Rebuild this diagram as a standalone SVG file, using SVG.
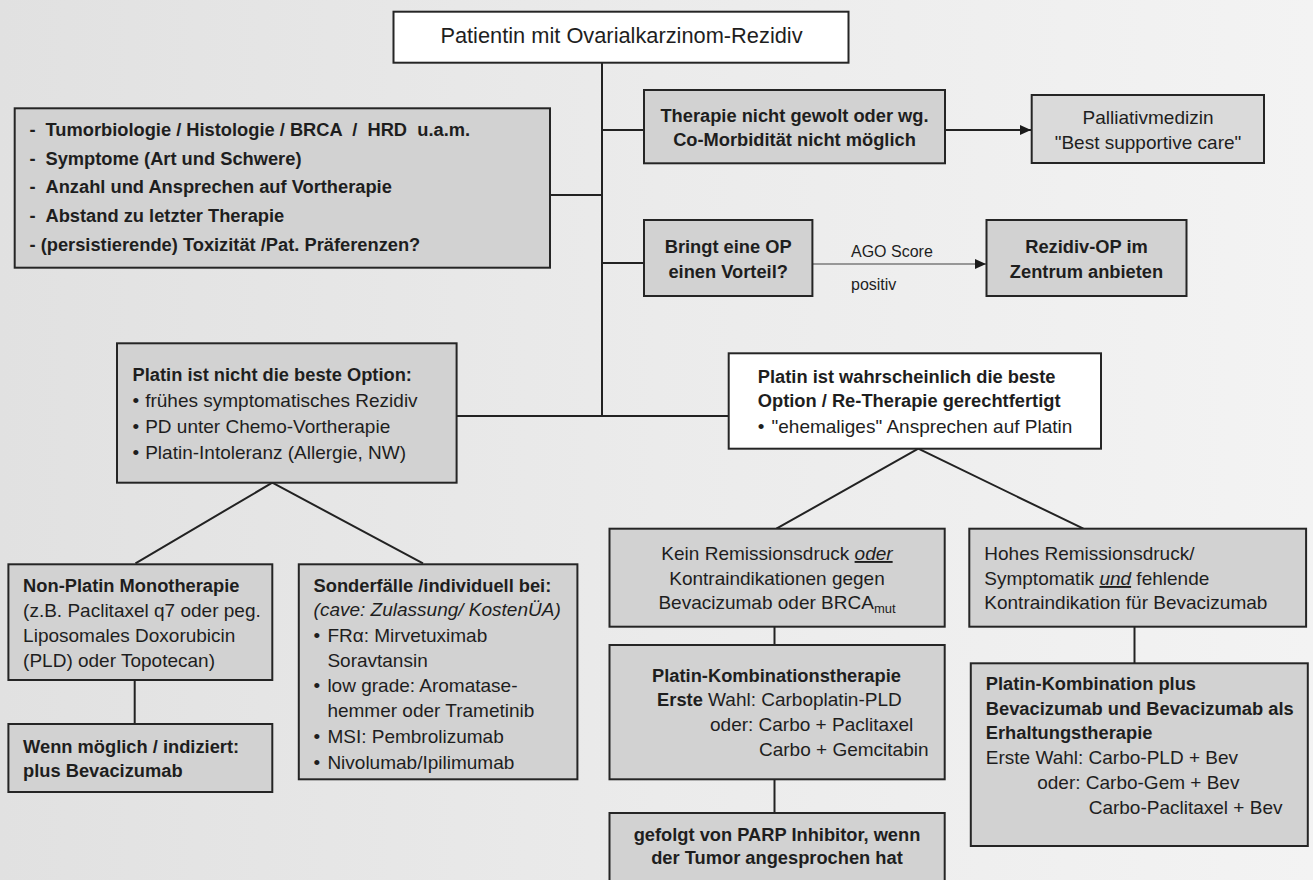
<svg xmlns="http://www.w3.org/2000/svg" width="1313" height="880" viewBox="0 0 1313 880">
  <defs>
    <linearGradient id="bg" x1="0" y1="0" x2="1" y2="0">
      <stop offset="0" stop-color="#e1e1e1"/>
      <stop offset="0.5" stop-color="#ebebeb"/>
      <stop offset="1" stop-color="#f3f3f3"/>
    </linearGradient>
    <marker id="arrow" markerUnits="userSpaceOnUse" markerWidth="12" markerHeight="11" refX="11" refY="5" orient="auto">
      <path d="M0,0 L11,5 L0,10 z" fill="#1a1a1a"/>
    </marker>
    <marker id="arrowGrey" markerUnits="userSpaceOnUse" markerWidth="12" markerHeight="11" refX="11" refY="5" orient="auto">
      <path d="M0,0 L11,5 L0,10 z" fill="#1a1a1a"/>
    </marker>
  </defs>
  <style>
    .box { stroke: #252525; stroke-width: 2; }
    .g { fill: #d2d2d2; }
    .gl { fill: #dadada; }
    .w { fill: #ffffff; }
    text { font-family: "Liberation Sans", Arial, sans-serif; fill: #1e1e1e; }
    .b { font-size: 18.3px; font-weight: bold; }
    .r { font-size: 19px; }
    .c { text-anchor: middle; }
    .pre { white-space: pre; }
    .em { font-style: italic; text-decoration: underline; }
    .line { stroke: #222; stroke-width: 2; fill: none; }
  </style>

  <rect x="0" y="0" width="1313" height="880" fill="url(#bg)"/>

  <!-- connectors -->
  <g id="connectors">
    <line class="line" x1="602" y1="62" x2="602" y2="416"/>
    <line class="line" x1="550" y1="195" x2="602" y2="195"/>
    <line class="line" x1="602" y1="130" x2="644" y2="130"/>
    <line class="line" x1="602" y1="263" x2="644" y2="263"/>
    <line class="line" x1="456.6" y1="416" x2="728.7" y2="416"/>
    <line class="line" x1="945" y1="130" x2="1031" y2="130" marker-end="url(#arrow)"/>
    <line x1="812.4" y1="264" x2="986" y2="264" stroke="#7a7a7a" stroke-width="1.5" marker-end="url(#arrowGrey)"/>
    <polyline class="line" points="135.5,563.3 272.3,482.7 423,563.3"/>
    <line class="line" x1="134.7" y1="680" x2="134.7" y2="724"/>
    <polyline class="line" points="776.4,528.7 918.3,448.7 1083.4,528.7"/>
    <line class="line" x1="774.5" y1="626.7" x2="774.5" y2="645"/>
    <line class="line" x1="774.5" y1="779.3" x2="774.5" y2="813"/>
    <line class="line" x1="1134.5" y1="626.7" x2="1134.5" y2="663.3"/>
  </g>

  <!-- edge label -->
  <g id="label-ago">
    <text x="851" y="256.5" font-size="16px">AGO Score</text>
    <text x="851" y="290" font-size="16px">positiv</text>
  </g>

  <g id="n-start">
    <rect class="box w" x="393.5" y="11.7" width="455" height="51"/>
    <text class="c" x="621.5" y="42.7" font-size="21.8px">Patientin mit Ovarialkarzinom-Rezidiv</text>
  </g>

  <g id="n-kriterien">
    <rect class="box g" x="14.7" y="108.3" width="535.3" height="159.4"/>
    <text class="b" x="29.5" y="136">-</text>
    <text class="b pre" x="45.5" y="136">Tumorbiologie / Histologie / BRCA  /  HRD  u.a.m.</text>
    <text class="b" x="29.5" y="164.7">-</text>
    <text class="b" x="45.5" y="164.7">Symptome (Art und Schwere)</text>
    <text class="b" x="29.5" y="193.3">-</text>
    <text class="b" x="45.5" y="193.3">Anzahl und Ansprechen auf Vortherapie</text>
    <text class="b" x="29.5" y="221.8">-</text>
    <text class="b" x="45.5" y="221.8">Abstand zu letzter Therapie</text>
    <text class="b" x="29.5" y="250.5">- (persistierende) Toxizität /Pat. Präferenzen?</text>
  </g>

  <g id="n-keine-therapie">
    <rect class="box g" x="644" y="90" width="301" height="73.3"/>
    <text class="b c" x="794.5" y="121.5">Therapie nicht gewolt oder wg.</text>
    <text class="b c" x="794.5" y="146">Co-Morbidität nicht möglich</text>
  </g>

  <g id="n-palliativ">
    <rect class="box gl" x="1031.7" y="95" width="232.3" height="68"/>
    <text class="r c" x="1148" y="124.3">Palliativmedizin</text>
    <text class="r c" x="1148" y="148.5">"Best supportive care"</text>
  </g>

  <g id="n-op-frage">
    <rect class="box g" x="644" y="220" width="168.4" height="76"/>
    <text class="b c" x="728.2" y="253">Bringt eine OP</text>
    <text class="b c" x="728.2" y="277.7">einen Vorteil?</text>
  </g>

  <g id="n-rezidiv-op">
    <rect class="box g" x="986.5" y="220" width="200" height="76"/>
    <text class="b c" x="1086.5" y="253">Rezidiv-OP im</text>
    <text class="b c" x="1086.5" y="277.7">Zentrum anbieten</text>
  </g>

  <g id="n-platin-nicht">
    <rect class="box g" x="117" y="343.3" width="339.6" height="139.4"/>
    <text class="b" x="132.6" y="381">Platin ist nicht die beste Option:</text>
    <text class="r" x="132.6" y="406.7">•</text>
    <text class="r" x="145.2" y="406.7">frühes symptomatisches Rezidiv</text>
    <text class="r" x="132.6" y="433">•</text>
    <text class="r" x="145.2" y="433">PD unter Chemo-Vortherapie</text>
    <text class="r" x="132.6" y="459.3">•</text>
    <text class="r" x="145.2" y="459.3">Platin-Intoleranz (Allergie, NW)</text>
  </g>

  <g id="n-platin-ja">
    <rect class="box w" x="728.7" y="353.3" width="372.3" height="95.4"/>
    <text class="b" x="757.8" y="382.7">Platin ist wahrscheinlich die beste</text>
    <text class="b" x="757.8" y="406.7">Option / Re-Therapie gerechtfertigt</text>
    <text class="r" x="757.8" y="433.3">•</text>
    <text class="r" x="771.5" y="433.3">"ehemaliges" Ansprechen auf Platin</text>
  </g>

  <g id="n-non-platin">
    <rect class="box g" x="8.4" y="564.3" width="263.9" height="115.7"/>
    <text class="b" x="23.1" y="591.7">Non-Platin Monotherapie</text>
    <text class="r" x="23.1" y="616.7">(z.B. Paclitaxel q7 oder peg.</text>
    <text class="r" x="23.1" y="642">Liposomales Doxorubicin</text>
    <text class="r" x="23.1" y="667">(PLD) oder Topotecan)</text>
  </g>

  <g id="n-bevacizumab">
    <rect class="box g" x="8.4" y="724" width="263.9" height="68"/>
    <text class="b" x="23.1" y="752.7">Wenn möglich / indiziert:</text>
    <text class="b" x="23.1" y="776.7">plus Bevacizumab</text>
  </g>

  <g id="n-sonderfaelle">
    <rect class="box g" x="298.8" y="564.3" width="278.6" height="215"/>
    <text class="b" x="313.6" y="591.7">Sonderfälle /individuell bei:</text>
    <text class="r" x="313.6" y="615.7" font-style="italic">(cave: Zulassung/ KostenÜA)</text>
    <text class="r" x="313.6" y="641.7">•</text>
    <text class="r" x="327.4" y="641.7">FRα: Mirvetuximab</text>
    <text class="r" x="327.4" y="667">Soravtansin</text>
    <text class="r" x="313.6" y="692.3">•</text>
    <text class="r" x="327.4" y="692.3">low grade: Aromatase-</text>
    <text class="r" x="327.4" y="716.7">hemmer oder Trametinib</text>
    <text class="r" x="313.6" y="743">•</text>
    <text class="r" x="327.4" y="743">MSI: Pembrolizumab</text>
    <text class="r" x="313.6" y="769">•</text>
    <text class="r" x="327.4" y="769">Nivolumab/Ipilimumab</text>
  </g>

  <g id="n-kein-druck">
    <rect class="box g" x="609.5" y="528.7" width="335.2" height="98"/>
    <text class="r c" x="777" y="560">Kein Remissionsdruck <tspan class="em">oder</tspan></text>
    <text class="r c" x="777" y="585">Kontraindikationen gegen</text>
    <text class="r c" x="777" y="609.3">Bevacizumab oder BRCA<tspan font-size="13px" dy="4">mut</tspan></text>
  </g>

  <g id="n-hoher-druck">
    <rect class="box g" x="969.3" y="528.7" width="336.8" height="98"/>
    <text class="r" x="984.3" y="560">Hohes Remissionsdruck/</text>
    <text class="r" x="984.3" y="585">Symptomatik <tspan class="em">und</tspan> fehlende</text>
    <text class="r" x="984.3" y="609.3">Kontraindikation für Bevacizumab</text>
  </g>

  <g id="n-kombination">
    <rect class="box g" x="609.5" y="645" width="335.2" height="134.3"/>
    <text class="b c" x="776.5" y="681.7">Platin-Kombinationstherapie</text>
    <text class="r" x="657.1" y="706"><tspan font-weight="bold" font-size="18.3px">Erste</tspan> Wahl: Carboplatin-PLD</text>
    <text class="r" x="710" y="730.7">oder: Carbo + Paclitaxel</text>
    <text class="r" x="759" y="755.7">Carbo + Gemcitabin</text>
  </g>

  <g id="n-parp">
    <rect class="box g" x="609.5" y="813" width="335.2" height="80"/>
    <text class="b c" x="777" y="840.5">gefolgt von PARP Inhibitor, wenn</text>
    <text class="b c" x="777" y="864">der Tumor angesprochen hat</text>
  </g>

  <g id="n-kombination-bev">
    <rect class="box g" x="970.8" y="663.3" width="337" height="182.7"/>
    <text class="b" x="985.8" y="690">Platin-Kombination plus</text>
    <text class="b" x="985.8" y="715">Bevacizumab und Bevacizumab als</text>
    <text class="b" x="985.8" y="739.3">Erhaltungstherapie</text>
    <text class="r" x="985.8" y="764">Erste Wahl: Carbo-PLD + Bev</text>
    <text class="r" x="1037.2" y="789.3">oder: Carbo-Gem + Bev</text>
    <text class="r" x="1088.7" y="814.3">Carbo-Paclitaxel + Bev</text>
  </g>
</svg>
